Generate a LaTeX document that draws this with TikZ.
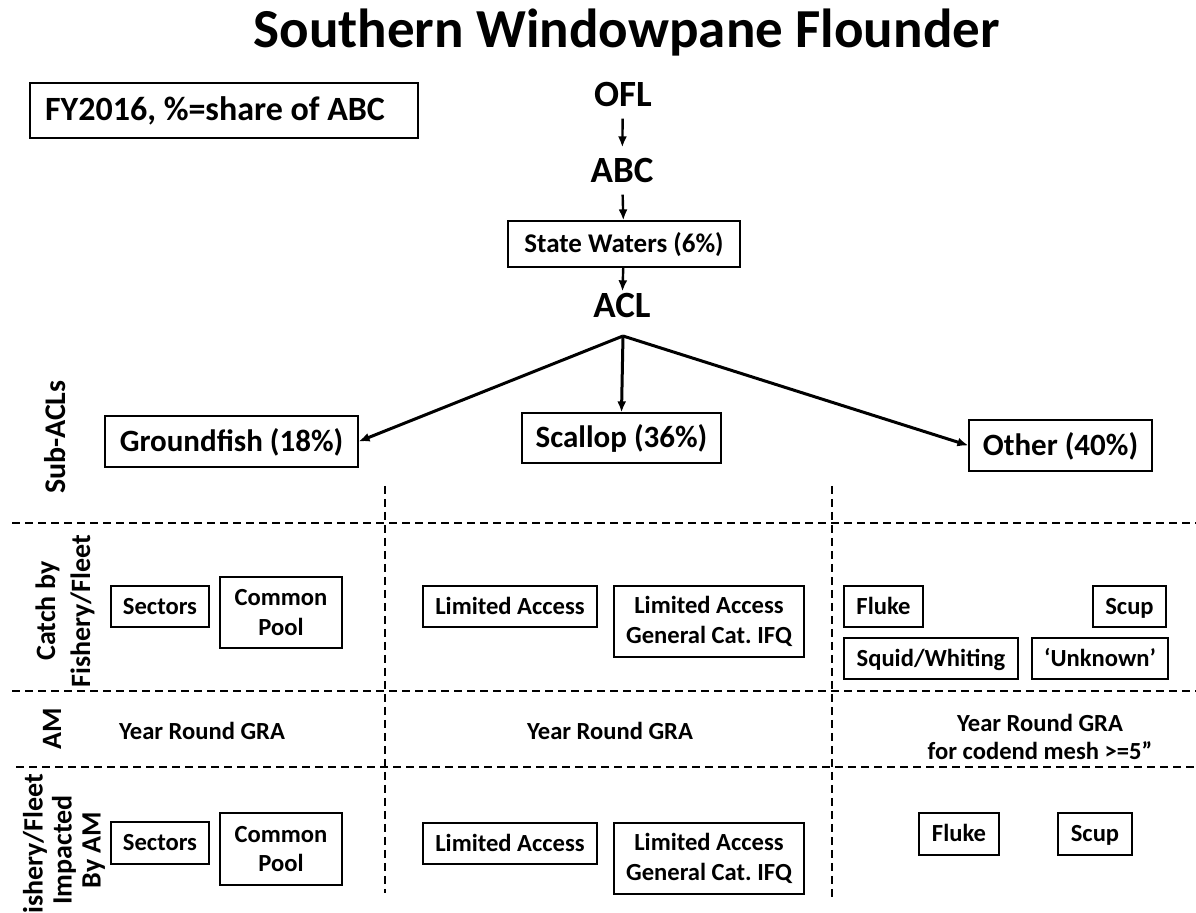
\documentclass[tikz,border=0pt]{standalone}
\usepackage{fontspec}
\setmainfont{Carlito}
\usetikzlibrary{arrows.meta}

\tikzset{
  box/.style={draw, line width=0.6pt, align=center, inner sep=0pt,
    font=\bfseries\fontsize{12.3}{14.8}\selectfont},
  single/.style={text height=10.4pt, text depth=2.6pt},
  bigbox/.style={box, font=\bfseries\fontsize{15.5}{18}\selectfont, text height=12.8pt, text depth=3pt},
  quota/.style={font=\bfseries\fontsize{18.5}{22}\selectfont, inner xsep=2pt, inner ysep=5.5pt},
  rowlabel/.style={rotate=90, align=center, font=\bfseries\fontsize{14}{17.5}\selectfont},
  cell/.style={align=center, font=\bfseries\fontsize{12.3}{14}\selectfont},
  divider/.style={line width=1pt, dash pattern=on 4pt off 2.5pt},
}

\begin{document}
\frenchspacing
\begin{tikzpicture}[x=0.5pt,y=-0.5pt,>={Latex[length=5.5pt,width=4.5pt]}]
  \useasboundingbox (0,0) rectangle (1196,913);

  \node [anchor=base, font=\bfseries\fontsize{27.5}{32}\selectfont] (title) at (626.5,48) {Southern Windowpane Flounder};
  \node [box, font=\bfseries\fontsize{17}{20}\selectfont, minimum width=194pt, minimum height=27.5pt]
    (fy) at (224,110.5) {FY2016, \%=share of ABC\hspace*{9pt}};

  % top of the chain
  \node [quota, anchor=base] (ofl) at (623,107) {OFL};
  \node [quota, anchor=base] (abc) at (622,183) {ABC};
  \node [box, font=\bfseries\fontsize{13.5}{16}\selectfont, text height=11.3pt, text depth=2.8pt,
    minimum width=116pt, minimum height=23pt] (sw) at (624,244) {State Waters (6\%)};
  \node [quota, anchor=base, inner ysep=1pt] (acl) at (622,318) {ACL};
  \coordinate (fork) at (623,336);

  \draw [line width=1.2pt,->] (ofl) -- (abc);
  \draw [line width=1.2pt,->] (abc) -- (sw);
  \draw [line width=1.2pt,->] (sw) -- (acl);

  % sub-ACLs
  \node [bigbox, minimum width=126.5pt, minimum height=25.5pt] (gf) at (231.5,441.5) {Groundfish (18\%)};
  \node [bigbox, minimum width=99.5pt, minimum height=25pt] (scal) at (621.5,438) {Scallop (36\%)};
  \node [bigbox, minimum width=91.5pt, minimum height=25.5pt] (oth) at (1060.5,445.5) {Other (40\%)};

  \draw [line width=1.5pt,->] (fork) -- (gf.east);
  \draw [line width=1.5pt,->] (fork) -- (scal.north);
  \draw [line width=1.5pt,->] (fork) -- (oth.west);

  % grid
  \draw [divider] (12,523) -- (1196,523);
  \draw [divider] (12,691) -- (1196,691);
  \draw [divider] (16,767) -- (1196,767);
  \draw [divider] (385,486) -- (385,893);
  \draw [divider] (832,486) -- (832,897);

  % row labels
  \node [rowlabel, font=\bfseries\fontsize{15}{18}\selectfont] (subacl) at (55,437) {Sub-ACLs};
  \node [rowlabel] (catch) at (65,611) {Catch by\\Fishery/Fleet};
  \node [rowlabel] (am) at (52,729) {AM};
  \node [rowlabel, font=\bfseries\fontsize{14}{14.5}\selectfont] (hit) at (64,850) {Fishery/Fleet\\Impacted\\By AM};

  % catch by fishery/fleet
  \node [box, single, minimum width=49pt, minimum height=20.5pt] (sec1) at (160,606.5) {Sectors};
  \node [box, minimum width=61pt, minimum height=35.5pt] (pool1) at (281,612.5) {Common\\Pool};
  \node [box, single, minimum width=87pt, minimum height=20.5pt] (la1) at (510,606.5) {Limited Access};
  \node [box, minimum width=95pt, minimum height=35.5pt] (gc1) at (709,621.5) {Limited Access\\General Cat. IFQ};
  \node [box, single, minimum width=39.5pt, minimum height=20.5pt] (fluke1) at (883.5,606.5) {Fluke};
  \node [box, single, minimum width=36.5pt, minimum height=20.5pt] (scup1) at (1129.5,606.5) {Scup};
  \node [box, single, minimum width=87pt, minimum height=20.5pt] (squid) at (931,658.5) {Squid/Whiting};
  \node [box, single, minimum width=68pt, minimum height=20.5pt] (unk) at (1100,658.5) {‘Unknown’};

  % accountability measures
  \node [cell] (gra1) at (202,731) {Year Round GRA};
  \node [cell] (gra2) at (610,731) {Year Round GRA};
  \node [cell] (gra3) at (1040,737) {Year Round GRA\\for codend mesh >=5”};

  % fishery/fleet impacted
  \node [box, single, minimum width=49pt, minimum height=21pt] (sec2) at (160,843) {Sectors};
  \node [box, minimum width=61pt, minimum height=36pt] (pool2) at (281,849) {Common\\Pool};
  \node [box, single, minimum width=87pt, minimum height=20.5pt] (la2) at (510,843.5) {Limited Access};
  \node [box, minimum width=95pt, minimum height=35.5pt] (gc2) at (709,858.5) {Limited Access\\General Cat. IFQ};
  \node [box, single, minimum width=40pt, minimum height=21pt] (fluke2) at (959,834) {Fluke};
  \node [box, single, minimum width=37pt, minimum height=21pt] (scup2) at (1095,834) {Scup};
\end{tikzpicture}
\end{document}
